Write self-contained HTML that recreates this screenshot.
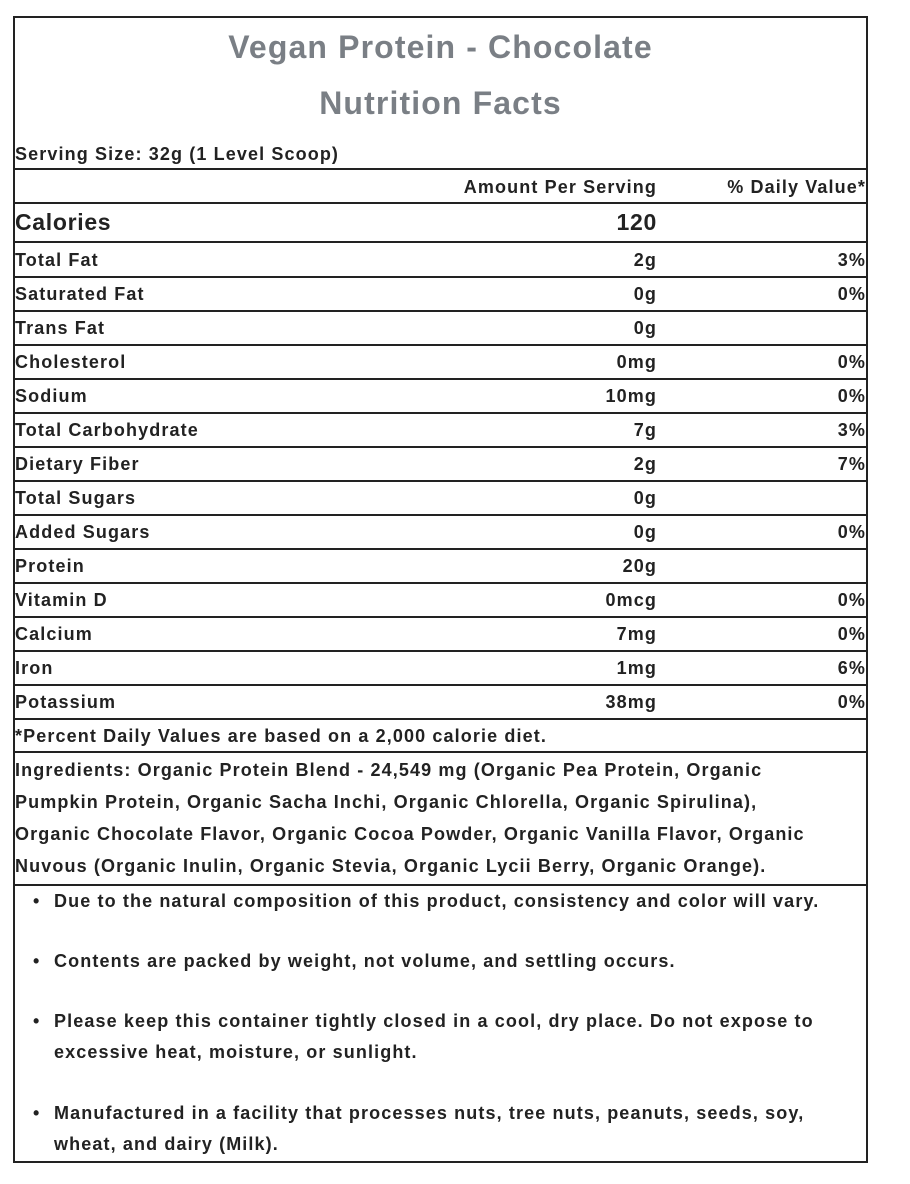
<!DOCTYPE html>
<html><head><meta charset="utf-8"><style>
*{margin:0;padding:0;box-sizing:border-box}
body{width:910px;height:1184px;background:#fff;font-family:"Liberation Sans",Arial,sans-serif;font-weight:bold;color:#222;position:relative;overflow:hidden;letter-spacing:0.07em}
.box{position:absolute;left:13px;top:16px;width:855px;height:1147px;border:2px solid #222}
.t{position:absolute;white-space:nowrap}
.h{position:absolute;left:13px;width:855px;height:2px;background:#222}
.title{left:13px;width:855px;text-align:center;color:#7a7f85;font-size:32px}
.r{font-size:18px}
.l{left:15px}
.a{right:253px;text-align:right}
.d{right:44px;text-align:right}
.ing{left:15px;font-size:18px;line-height:32px}
.b{left:54px;font-size:18px;line-height:31px}
.dot{left:33px;font-size:18px;line-height:31px}
</style></head><body>
<div class="box"></div>
<div class="t title" style="top:29px">Vegan Protein - Chocolate</div>
<div class="t title" style="top:85px">Nutrition Facts</div>
<div class="t r l" style="top:144px">Serving Size: 32g (1 Level Scoop)</div>
<div class="h" style="top:168px"></div>
<div class="t r a" style="top:177px">Amount Per Serving</div>
<div class="t r d" style="top:177px">% Daily Value*</div>
<div class="h" style="top:202px"></div>
<div class="t l" style="top:209px;font-size:23px;letter-spacing:0.03em">Calories</div>
<div class="t a" style="top:209px;font-size:23px;letter-spacing:0.03em">120</div>
<div class="h" style="top:241px"></div>

<div class="t r l" style="top:250px">Total Fat</div><div class="t r a" style="top:250px">2g</div><div class="t r d" style="top:250px">3%</div>
<div class="h" style="top:276px"></div>
<div class="t r l" style="top:284px">Saturated Fat</div><div class="t r a" style="top:284px">0g</div><div class="t r d" style="top:284px">0%</div>
<div class="h" style="top:310px"></div>
<div class="t r l" style="top:318px">Trans Fat</div><div class="t r a" style="top:318px">0g</div>
<div class="h" style="top:344px"></div>
<div class="t r l" style="top:352px">Cholesterol</div><div class="t r a" style="top:352px">0mg</div><div class="t r d" style="top:352px">0%</div>
<div class="h" style="top:378px"></div>
<div class="t r l" style="top:386px">Sodium</div><div class="t r a" style="top:386px">10mg</div><div class="t r d" style="top:386px">0%</div>
<div class="h" style="top:412px"></div>
<div class="t r l" style="top:420px">Total Carbohydrate</div><div class="t r a" style="top:420px">7g</div><div class="t r d" style="top:420px">3%</div>
<div class="h" style="top:446px"></div>
<div class="t r l" style="top:454px">Dietary Fiber</div><div class="t r a" style="top:454px">2g</div><div class="t r d" style="top:454px">7%</div>
<div class="h" style="top:480px"></div>
<div class="t r l" style="top:488px">Total Sugars</div><div class="t r a" style="top:488px">0g</div>
<div class="h" style="top:514px"></div>
<div class="t r l" style="top:522px">Added Sugars</div><div class="t r a" style="top:522px">0g</div><div class="t r d" style="top:522px">0%</div>
<div class="h" style="top:548px"></div>
<div class="t r l" style="top:556px">Protein</div><div class="t r a" style="top:556px">20g</div>
<div class="h" style="top:582px"></div>
<div class="t r l" style="top:590px">Vitamin D</div><div class="t r a" style="top:590px">0mcg</div><div class="t r d" style="top:590px">0%</div>
<div class="h" style="top:616px"></div>
<div class="t r l" style="top:624px">Calcium</div><div class="t r a" style="top:624px">7mg</div><div class="t r d" style="top:624px">0%</div>
<div class="h" style="top:650px"></div>
<div class="t r l" style="top:658px">Iron</div><div class="t r a" style="top:658px">1mg</div><div class="t r d" style="top:658px">6%</div>
<div class="h" style="top:684px"></div>
<div class="t r l" style="top:692px">Potassium</div><div class="t r a" style="top:692px">38mg</div><div class="t r d" style="top:692px">0%</div>
<div class="h" style="top:718px"></div>
<div class="t r l" style="top:726px">*Percent Daily Values are based on a 2,000 calorie diet.</div>
<div class="h" style="top:751px"></div>
<div class="t ing" style="top:754px">Ingredients: Organic Protein Blend - 24,549 mg (Organic Pea Protein, Organic<br>Pumpkin Protein, Organic Sacha Inchi, Organic Chlorella, Organic Spirulina),<br>Organic Chocolate Flavor, Organic Cocoa Powder, Organic Vanilla Flavor, Organic<br>Nuvous (Organic Inulin, Organic Stevia, Organic Lycii Berry, Organic Orange).</div>
<div class="h" style="top:884px"></div>
<div class="t dot" style="top:886px">•</div><div class="t b" style="top:886px">Due to the natural composition of this product, consistency and color will vary.</div>
<div class="t dot" style="top:946px">•</div><div class="t b" style="top:946px">Contents are packed by weight, not volume, and settling occurs.</div>
<div class="t dot" style="top:1006px">•</div><div class="t b" style="top:1006px">Please keep this container tightly closed in a cool, dry place. Do not expose to<br>excessive heat, moisture, or sunlight.</div>
<div class="t dot" style="top:1098px">•</div><div class="t b" style="top:1098px">Manufactured in a facility that processes nuts, tree nuts, peanuts, seeds, soy,<br>wheat, and dairy (Milk).</div>
</body></html>
